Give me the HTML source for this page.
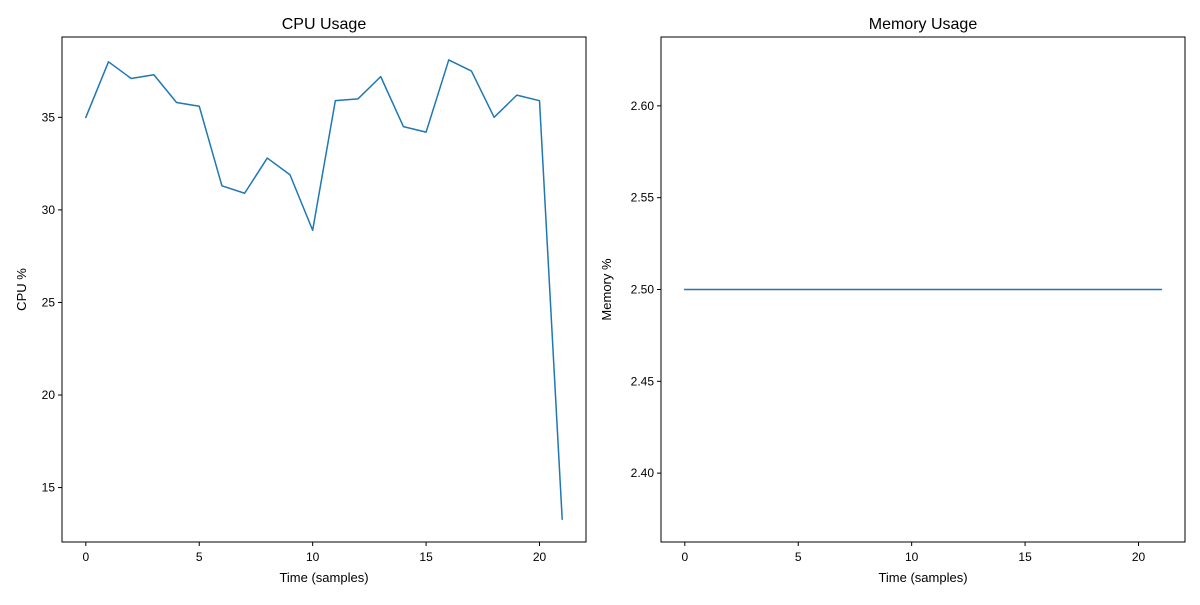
<!DOCTYPE html>
<html><head><meta charset="utf-8">
<style>
html,body{margin:0;padding:0;background:#fff;}
svg text{font-family:"Liberation Sans","DejaVu Sans",sans-serif;fill:#000;}
</style></head>
<body>
<svg id="fig" width="1200" height="600" viewBox="0 0 1200 600" xmlns="http://www.w3.org/2000/svg"></svg>
<script>
const cpuSamples = [0,1,2,3,4,5,6,7,8,9,10,11,12,13,14,15,16,17,18,19,20,21];
const cpuValues = [35.0,38.0,37.1,37.3,35.8,35.6,31.3,30.9,32.8,31.9,28.9,35.9,36.0,37.2,34.5,34.2,38.1,37.5,35.0,36.2,35.9,13.3];
const cpuYTicks = [15,20,25,30,35];
const memSamples = [0,1,2,3,4,5,6,7,8,9,10,11,12,13,14,15,16,17,18,19,20,21];
const memValues = [2.5,2.5,2.5,2.5,2.5,2.5,2.5,2.5,2.5,2.5,2.5,2.5,2.5,2.5,2.5,2.5,2.5,2.5,2.5,2.5,2.5,2.5];
const memYTicks = ["2.40","2.45","2.50","2.55","2.60"];
const xTicks = [0,5,10,15,20];

const NS="http://www.w3.org/2000/svg";
const svg=document.getElementById('fig');
function mk(tag,attrs,parent){const e=document.createElementNS(NS,tag);for(const k in attrs)e.setAttribute(k,attrs[k]);(parent||svg).appendChild(e);return e;}

function panel(o){
  const g=mk('g',{});
  
  
  const xMin=Math.min(...o.xs), xMax=Math.max(...o.xs);
  const yv=o.ys;
  let yMin=Math.min(...yv), yMax=Math.max(...yv);
  let yLo,yHi;
  if(yMax-yMin<1e-9){yLo=yMin*0.945;yHi=yMax*1.055;}
  else{const pad=(yMax-yMin)*0.05;yLo=yMin-pad;yHi=yMax+pad;}
  const xPad=(xMax-xMin)*0.05;
  const xLo=xMin-xPad,xHi=xMax+xPad;
  const sx=v=>o.x0+(v-xLo)/(xHi-xLo)*(o.x1-o.x0);
  const sy=v=>o.y1-(v-yLo)/(yHi-yLo)*(o.y1-o.y0);
  // line
  const d=o.xs.map((x,i)=>(i?'L':'M')+sx(x).toFixed(2)+','+sy(o.ys[i]).toFixed(2)).join(' ');
  const line=mk('path',{d:d,fill:'none',stroke:'#1f77b4','stroke-width':1.5,'stroke-linejoin':'round','stroke-linecap':'square'},g);
  
  
  // frame
  const fr=mk('rect',{x:o.x0,y:o.y0,width:o.x1-o.x0,height:o.y1-o.y0,fill:'none',stroke:'#000','stroke-width':1},g);
  
  
  // x ticks
  xTicks.forEach(t=>{
    const x=sx(t);
    mk('line',{x1:x,x2:x,y1:o.y1,y2:o.y1+4,stroke:'#000','stroke-width':1},g);
    const tx=mk('text',{x:x,y:o.y1+19,'font-size':12,'text-anchor':'middle'},g);
    tx.textContent=t;
    
    
  });
  o.yt.forEach(t=>{
    const y=sy(parseFloat(t));
    mk('line',{x1:o.x0-4,x2:o.x0,y1:y,y2:y,stroke:'#000','stroke-width':1},g);
    const tx=mk('text',{x:o.x0-7,y:y+4,'font-size':12,'text-anchor':'end'},g);
    tx.textContent=t;
    
    
  });
  const ti=mk('text',{x:(o.x0+o.x1)/2,y:o.y0-8,'font-size':16,'text-anchor':'middle'},g);
  ti.textContent=o.title;
  
  
  const xl=mk('text',{x:(o.x0+o.x1)/2,y:582,'font-size':13,'text-anchor':'middle'},g);
  xl.textContent='Time (samples)';
  
  
  const cy=(o.y0+o.y1)/2;
  const yl=mk('text',{x:o.ylx,y:cy,'font-size':13,'text-anchor':'middle',transform:'rotate(-90 '+o.ylx+' '+cy+')'},g);
  yl.textContent=o.ylabel;
  
  
}
panel({name:'cpu-chart',xs:cpuSamples,ys:cpuValues,yt:cpuYTicks,x0:62,x1:586,y0:37,y1:542,title:'CPU Usage',ylabel:'CPU %',ylx:26});
panel({name:'memory-chart',xs:memSamples,ys:memValues,yt:memYTicks,x0:661,x1:1185,y0:37,y1:542,title:'Memory Usage',ylabel:'Memory %',ylx:611});
</script>
</body></html>
